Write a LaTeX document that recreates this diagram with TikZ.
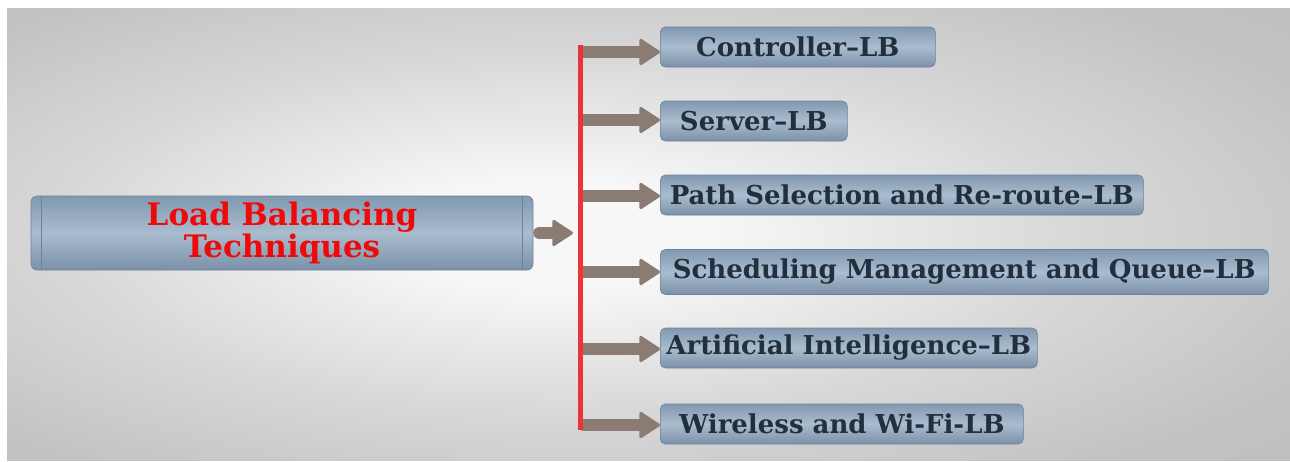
\documentclass[tikz,border=0pt]{standalone}
\usepackage{fontspec}
\setmainfont{DejaVu Serif}
\usetikzlibrary{arrows.meta}

\definecolor{bgedge}{HTML}{BEBEBE}
\definecolor{bgmid}{HTML}{F7F7F7}
\definecolor{boxtop}{HTML}{8199B1}
\definecolor{boxmid}{HTML}{AABCCE}
\definecolor{boxbot}{HTML}{7B91A9}
\definecolor{boxline}{HTML}{6C829B}
\definecolor{inktext}{HTML}{222F3E}
\definecolor{titlered}{HTML}{EE0A0A}
\definecolor{flowc}{HTML}{8A7C72}
\definecolor{busred}{HTML}{EE3338}

% soft grey glow behind the whole chart
\pgfdeclareradialshading{backglow}{\pgfpoint{-4bp}{0bp}}{%
  color(0bp)=(bgmid); color(6bp)=(bgmid); color(20bp)=(bgmid!45!bgedge);
  color(33bp)=(bgedge!95!bgmid); color(50bp)=(bgedge); color(80bp)=(bgedge)}

\tikzset{
  leaf/.style={draw=boxline, line width=0.6pt, rounded corners=5pt,
    top color=boxtop, bottom color=boxbot, middle color=boxmid,
    text=inktext, font=\bfseries\fontsize{26}{30}\selectfont,
    anchor=west, minimum height=40pt, inner sep=0pt},
  hub/.style={draw=boxline, line width=0.6pt, rounded corners=6pt,
    top color=boxtop, bottom color=boxbot, middle color=boxmid,
    text=titlered, font=\bfseries\fontsize{31}{32}\selectfont,
    align=center, minimum width=502pt, minimum height=74pt, inner sep=0pt},
  flow/.style={draw=flowc, line width=12pt, line cap=round,
    -{Triangle[width=28pt,length=22pt,round,line width=3pt]}},
  bus/.style={draw=busred, line width=5pt},
  hubedge/.style={draw=boxline, line width=0.8pt}
}

\begin{document}
\begin{tikzpicture}[x=1pt,y=-1pt]
  \useasboundingbox (0,0) rectangle (1290,461);
  \fill[white] (0,0) rectangle (1290,461);
  \shade[shading=backglow] (7,8) rectangle (1290,460);

  % central topic
  \node[hub] (hub) at (282,233) {Load Balancing\\Techniques};
  \draw[hubedge] ([xshift=11pt]hub.north west) -- ([xshift=11pt]hub.south west);
  \draw[hubedge] ([xshift=-11pt]hub.north east) -- ([xshift=-11pt]hub.south east);

  % the six techniques
  \node[leaf, minimum width=275pt] (c1) at (660,47) {Controller–LB};
  \node[leaf, minimum width=187pt] (c2) at (660,121) {Server–LB};
  \node[leaf, minimum width=483pt] (c3) at (660,195) {Path Selection and Re-route–LB};
  \node[leaf, minimum width=608pt, minimum height=45pt] (c4) at (660,272) {Scheduling Management and Queue–LB};
  \node[leaf, minimum width=377pt] (c5) at (660,348) {Artificial Intelligence–LB};
  \node[leaf, minimum width=363pt] (c6) at (660,424) {Wireless and Wi-Fi-LB};

  % branch points on the red bar
  \coordinate (bustop) at (580,45);
  \coordinate (busbot) at (580,430);
  \coordinate (b1) at (584,52);
  \coordinate (b2) at (584,120);
  \coordinate (b3) at (584,196);
  \coordinate (b4) at (584,272);
  \coordinate (b5) at (584,349);
  \coordinate (b6) at (584,425);
  \coordinate (hubtip) at (573,233);

  % connectors
  \draw[flow] ([xshift=6pt]hub.east) -- (hubtip);
  \foreach \i in {1,...,6} {
    \draw[flow] (b\i) -- (b\i -| c\i.west);
  }
  \draw[bus] (bustop) -- (busbot);
\end{tikzpicture}
\end{document}
